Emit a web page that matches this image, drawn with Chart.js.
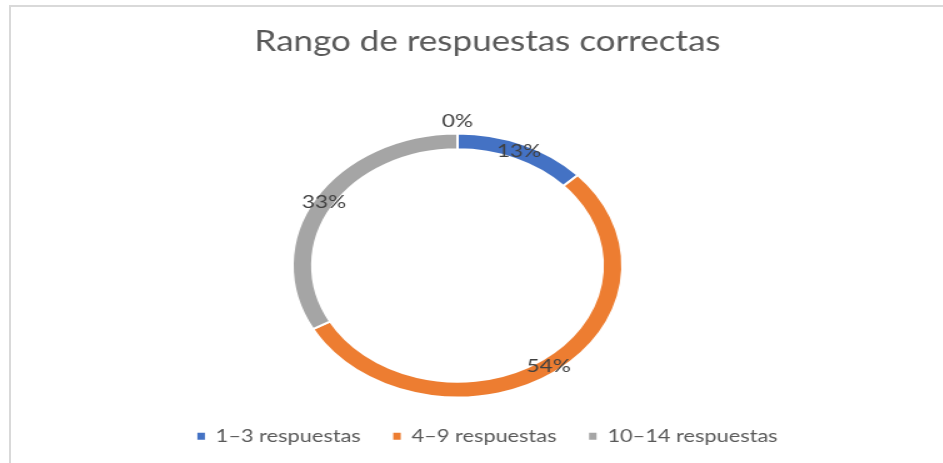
<!DOCTYPE html>
<html>
<head>
<meta charset="utf-8">
<script src="https://cdn.jsdelivr.net/npm/chart.js@4.4.1/dist/chart.umd.min.js"></script>
<style>
	html, body { margin: 0; padding: 0; background: #fff; overflow: hidden; }
	body { width: 943px; height: 463px; position: relative; }
	#frame {
		position: absolute; left: 9px; top: 5px; width: 1000px; height: 500px;
		border-left: 2px solid #d9d9d9; border-top: 2px solid #d9d9d9;
	}
	#wrap {
		position: absolute; left: 0; top: 0; width: 780px; height: 463px;
		transform-origin: 0 0; transform: scaleX(1.25);
	}
</style>
</head>
<body>
<div id="frame"></div>
<div id="wrap"><canvas id="doughnut-chartcanvas"></canvas></div>
<script>
	// chart data
	var categories = ["1\u20133 respuestas", "4\u20139 respuestas", "10\u201314 respuestas", ""];
	var values = [13, 54, 33, 0];
	var colors = ["#4472C4", "#ED7D31", "#A5A5A5", "#FFC000"];

	// ring placement (unscaled canvas coords)
	var ringX = 366, ringY = 265.5, ringR = 133;

	var placeRing = {
		id : "placeRing",
		afterLayout : function(chart) {
			Object.assign(chart.chartArea, {
				left : ringX - ringR, right : ringX + ringR,
				top : ringY - ringR, bottom : ringY + ringR,
				width : ringR * 2, height : ringR * 2
			});
		}
	};

	// percentage labels on the ring
	var arcLabels = {
		id : "arcLabels",
		afterDatasetsDraw : function(chart) {
			var ctx = chart.ctx;
			var total = values.reduce(function(a, b) { return a + b; }, 0);
			ctx.save();
			ctx.font = "18px Lato";
			ctx.fillStyle = "#404040";
			ctx.textAlign = "center";
			ctx.textBaseline = "middle";
			chart.getDatasetMeta(0).data.forEach(function(arc, i) {
				var p = arc.getProps(["x", "y", "startAngle", "endAngle", "innerRadius", "outerRadius"], true);
				var mid = (p.startAngle + p.endAngle) / 2;
				var r = values[i] === 0 ? p.outerRadius + 12 : (p.innerRadius + p.outerRadius) / 2;
				var pct = Math.round(values[i] / total * 100) + "%";
				ctx.fillText(pct, p.x + Math.cos(mid) * r, p.y + Math.sin(mid) * r);
			});
			ctx.restore();
		}
	};

	var ctx = document.getElementById("doughnut-chartcanvas");

	var chart = new Chart(ctx, {
		type : "doughnut",
		data : {
			labels : categories,
			datasets : [{
				data : values,
				backgroundColor : colors,
				borderColor : "#ffffff",
				borderWidth : 2,
				hoverBorderWidth : 2
			}]
		},
		options : {
			responsive : true,
			maintainAspectRatio : false,
			animation : false,
			events : [],
			cutout : "88%",
			layout : { padding : { bottom : 8 } },
			plugins : {
				title : {
					display : true,
					text : "Rango de respuestas correctas",
					color : "#595959",
					font : { family : "Lato", size : 28, weight : "normal" },
					padding : { top : 25, bottom : 10 }
				},
				legend : {
					display : true,
					position : "bottom",
					labels : {
						color : "#595959",
						font : { family : "Lato", size : 17.4 },
						boxWidth : 6,
						boxHeight : 7,
						padding : 26,
						generateLabels : function(chart) {
							var items = Chart.overrides.doughnut.plugins.legend.labels.generateLabels(chart);
							return items.filter(function(item) {
								return item.text !== "";
							}).map(function(item) {
								item.lineWidth = 0;
								item.strokeStyle = item.fillStyle;
								return item;
							});
						}
					}
				},
				tooltip : { enabled : false }
			}
		},
		plugins : [placeRing, arcLabels]
	});
</script>
</body>
</html>
